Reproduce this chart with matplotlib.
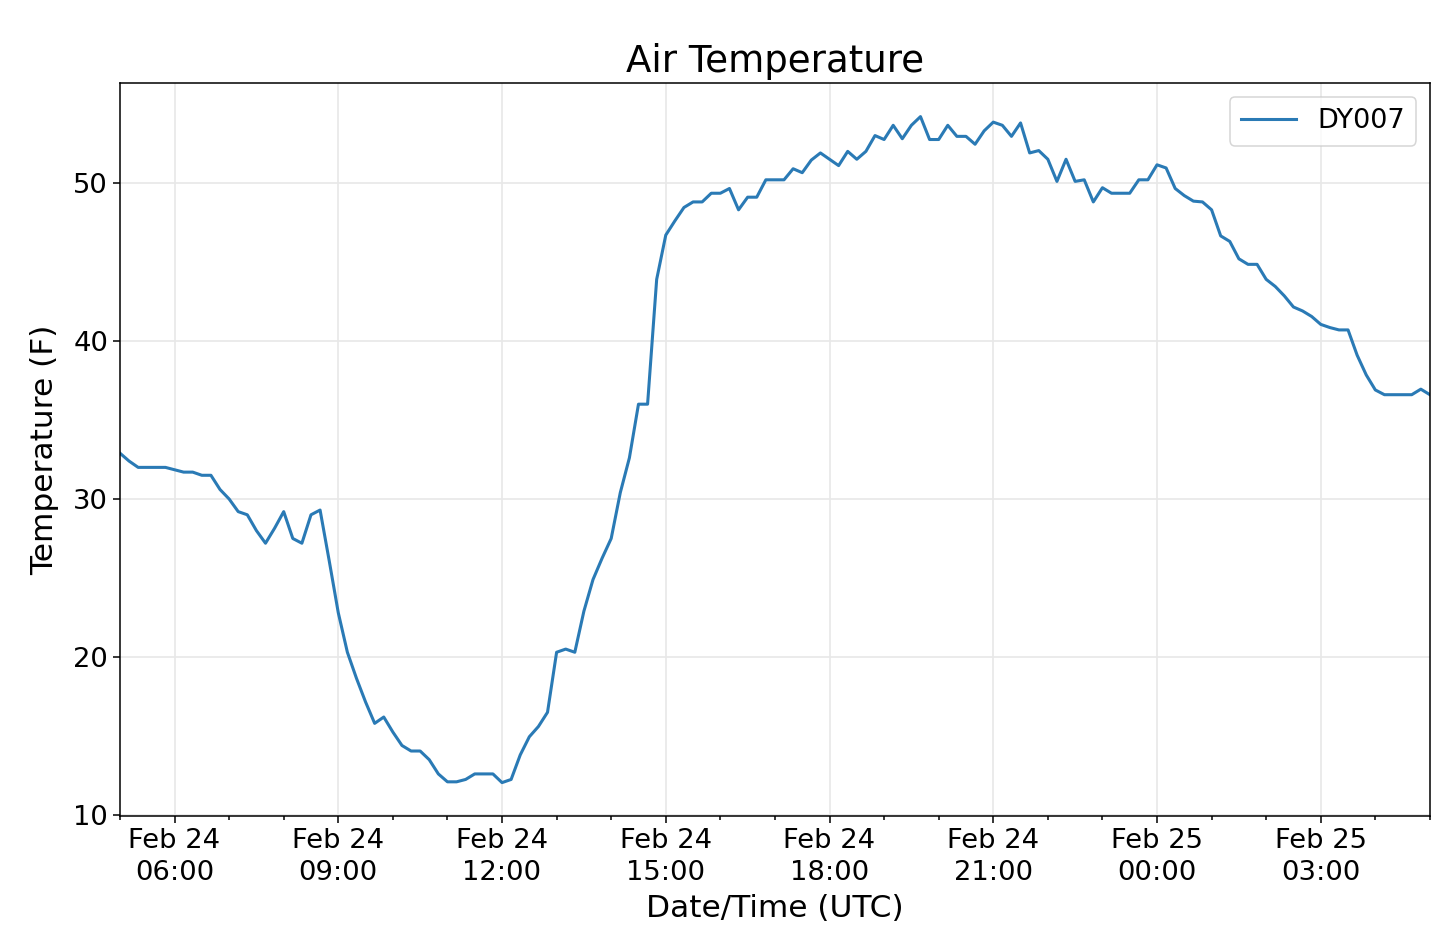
import matplotlib
matplotlib.use("Agg")
import matplotlib.pyplot as plt
import matplotlib.dates as mdates
import pandas as pd
import numpy as np

# ---- data ----
start_time = "2020-02-24 05:00"
interval = "10min"
station = "DY007"
temperature_f = [
    32.9, 32.4, 32.0, 32.0, 32.0, 32.0, 31.85, 31.7, 31.7, 31.5,
    31.5, 30.6, 30.0, 29.2, 29.0, 28.0, 27.2, 28.15, 29.2, 27.5,
    27.2, 29.0, 29.3, 26.1, 22.8, 20.3, 18.65, 17.15, 15.8, 16.2,
    15.25, 14.4, 14.05, 14.05, 13.5, 12.6, 12.1, 12.1, 12.25, 12.6,
    12.6, 12.6, 12.05, 12.25, 13.8, 14.95, 15.6, 16.5, 20.3, 20.5,
    20.3, 22.9, 24.9, 26.25, 27.5, 30.4, 32.6, 36.0, 36.0, 43.9,
    46.7, 47.6, 48.45, 48.8, 48.8, 49.35, 49.35, 49.65, 48.3, 49.1,
    49.1, 50.2, 50.2, 50.2, 50.9, 50.65, 51.45, 51.9, 51.5, 51.1,
    52.0, 51.5, 52.0, 53.0, 52.75, 53.65, 52.8, 53.65, 54.2, 52.75,
    52.75, 53.65, 52.95, 52.95, 52.45, 53.3, 53.85, 53.65, 52.95, 53.8,
    51.9, 52.05, 51.5, 50.1, 51.5, 50.1, 50.2, 48.8, 49.7, 49.35,
    49.35, 49.35, 50.2, 50.2, 51.15, 50.95, 49.65, 49.2, 48.85, 48.8,
    48.3, 46.65, 46.3, 45.2, 44.85, 44.85, 43.9, 43.45, 42.85, 42.15,
    41.9, 41.55, 41.05, 40.85, 40.7, 40.7, 39.1, 37.85, 36.9, 36.6,
    36.6, 36.6, 36.6, 36.95, 36.6,
]
times = pd.date_range(start_time, periods=len(temperature_f), freq=interval)

title = "Air Temperature"
xlabel = "Date/Time (UTC)"
ylabel = "Temperature (F)"
yticks = [10, 20, 30, 40, 50]

# ---- figure ----
plt.rcParams['font.family'] = ['DejaVu Sans']
fig = plt.figure(figsize=(14.4, 9.36), dpi=100)
ax = fig.add_axes([0.0833, 0.1283, 0.9097, 0.7827])

ax.plot(times, temperature_f, color="#2a7ab5", linewidth=2.2, label=station)

ax.set_xlim(times[0], times[-1])
ax.set_yticks(yticks)

ax.xaxis.set_major_locator(mdates.HourLocator(byhour=range(0, 24, 3)))
ax.xaxis.set_minor_locator(mdates.HourLocator())
ax.xaxis.set_major_formatter(mdates.DateFormatter("%b %d\n%H:%M"))

ax.grid(True, which="major", color="#e8e8e8", linewidth=1.2)
ax.set_axisbelow(True)

ax.tick_params(axis="both", which="major", labelsize=19.7, length=4.9, width=1.1)
ax.tick_params(axis="both", which="minor", length=2.8, width=1.1)
for s in ax.spines.values():
    s.set_linewidth(1.1)

fig.canvas.draw()
for lbl in ax.get_xticklabels():
    lbl.set_linespacing(1.32)

ax.set_title(title, fontsize=26.7, pad=8)
ax.set_xlabel(xlabel, fontsize=22.5, labelpad=6)
ax.set_ylabel(ylabel, fontsize=22.5, labelpad=10)

leg = ax.legend(loc="upper right", fontsize=19.5, handlelength=2.0,
                borderpad=0.42, framealpha=0.8)
leg.get_frame().set_edgecolor("#cccccc")
leg.get_frame().set_linewidth(1.1)

fig.savefig("out.png", dpi=100)
